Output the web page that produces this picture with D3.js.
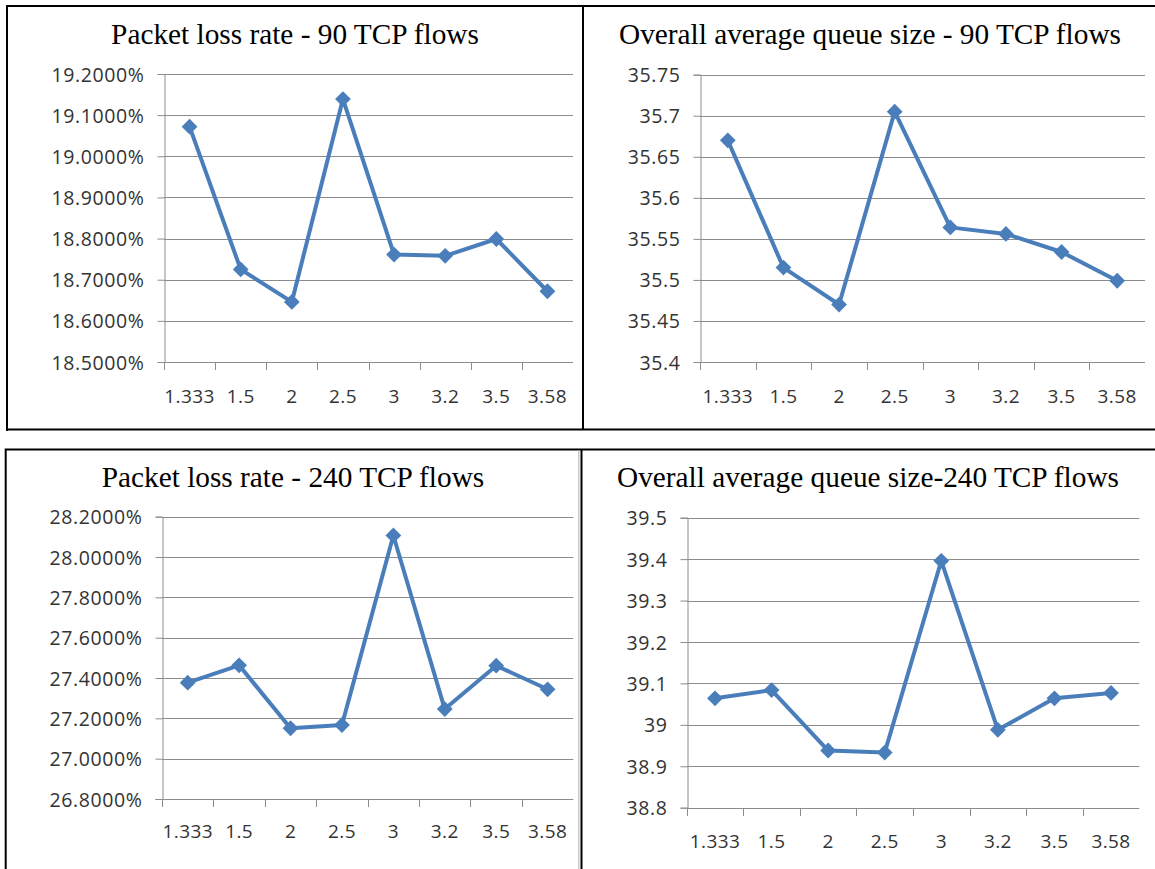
<!DOCTYPE html>
<html>
<head>
<meta charset="utf-8">
<script src="https://cdn.jsdelivr.net/npm/d3@7"></script>
<style>
  html, body { margin: 0; padding: 0; background: #fff; }
  svg { display: block; }
</style>
</head>
<body>
<svg id="chart" width="1155" height="869"></svg>
<script>
// Bandwidth ratio settings along the x axis
const categories = ["1.333", "1.5", "2", "2.5", "3", "3.2", "3.5", "3.58"];

// Packet loss rate (%) with 90 TCP flows
const loss90 = [19.072, 18.725, 18.646, 19.139, 18.761, 18.758, 18.799, 18.672];
// Overall average queue size with 90 TCP flows
const queue90 = [35.670, 35.515, 35.470, 35.705, 35.564, 35.556, 35.534, 35.499];
// Packet loss rate (%) with 240 TCP flows
const loss240 = [27.377, 27.463, 27.151, 27.167, 28.107, 27.246, 27.461, 27.344];
// Overall average queue size with 240 TCP flows
const queue240 = [39.064, 39.084, 38.938, 38.933, 39.396, 38.988, 39.064, 39.077];

// Y axis tick values and their labels
const lossTicks90 = [18.5, 18.6, 18.7, 18.8, 18.9, 19.0, 19.1, 19.2];
const lossLabels90 = ["18.5000%", "18.6000%", "18.7000%", "18.8000%", "18.9000%", "19.0000%", "19.1000%", "19.2000%"];
const queueTicks90 = [35.4, 35.45, 35.5, 35.55, 35.6, 35.65, 35.7, 35.75];
const queueLabels90 = ["35.4", "35.45", "35.5", "35.55", "35.6", "35.65", "35.7", "35.75"];
const lossTicks240 = [26.8, 27.0, 27.2, 27.4, 27.6, 27.8, 28.0, 28.2];
const lossLabels240 = ["26.8000%", "27.0000%", "27.2000%", "27.4000%", "27.6000%", "27.8000%", "28.0000%", "28.2000%"];
const queueTicks240 = [38.8, 38.9, 39.0, 39.1, 39.2, 39.3, 39.4, 39.5];
const queueLabels240 = ["38.8", "38.9", "39", "39.1", "39.2", "39.3", "39.4", "39.5"];

const titles = [
  "Packet loss rate - 90 TCP flows",
  "Overall average queue size - 90 TCP flows",
  "Packet loss rate - 240 TCP flows",
  "Overall average queue size-240 TCP flows"
];

const svg = d3.select("#chart");

const LINE_COLOR = "#4a7ebb";
const GRID_COLOR = "#8c8c8c";
const TEXT_COLOR = "#333";
const TICK_FONT = "'Open Sans', 'Liberation Sans', sans-serif";
const TITLE_FONT = "'Liberation Serif', 'Times New Roman', serif";

// Panel frames
const frame = svg.append("g").attr("fill", "none");
frame.append("path")
  .attr("d", "M7,431 V6 H1157 M7,429.5 H1157 M583,6 V430")
  .attr("stroke", "#000").attr("stroke-width", 2);
frame.append("path")
  .attr("d", "M5.7,870 V449.5 H1157 M581.5,449 V870")
  .attr("stroke", "#000").attr("stroke-width", 2);
frame.append("path")
  .attr("d", "M578.8,450 V870")
  .attr("stroke", "#b0b0b0").attr("stroke-width", 1);

const panels = [
  { values: loss90, ticks: lossTicks90, labels: lossLabels90, title: titles[0],
    x0: 164, x1: 573, y0: 74, y1: 362, titleX: 295, titleY: 44, xLabelY: 403 },
  { values: queue90, ticks: queueTicks90, labels: queueLabels90, title: titles[1],
    x0: 700, x1: 1145, y0: 74.7, y1: 362, titleX: 870, titleY: 44, xLabelY: 403 },
  { values: loss240, ticks: lossTicks240, labels: lossLabels240, title: titles[2],
    x0: 162, x1: 573.3, y0: 516.7, y1: 799, titleX: 293, titleY: 487, xLabelY: 838 },
  { values: queue240, ticks: queueTicks240, labels: queueLabels240, title: titles[3],
    x0: 686.7, x1: 1139.3, y0: 517.7, y1: 807.7, titleX: 868, titleY: 487, xLabelY: 848 }
];

const diamond = d3.symbol().type(d3.symbolSquare).size(125);

panels.forEach(p => {
  const g = svg.append("g");

  const x = d3.scaleBand().domain(categories).range([p.x0, p.x1]).padding(0);
  const y = d3.scaleLinear()
    .domain([p.ticks[0], p.ticks[p.ticks.length - 1]])
    .range([p.y1, p.y0]);

  // Title
  g.append("text")
    .attr("x", p.titleX).attr("y", p.titleY)
    .attr("text-anchor", "middle")
    .attr("font-family", TITLE_FONT)
    .attr("font-size", 29.3)
    .attr("fill", "#000")
    .text(p.title);

  // Horizontal gridlines
  g.append("g")
    .selectAll("line")
    .data(p.ticks.slice(1))
    .join("line")
    .attr("x1", p.x0).attr("x2", p.x1)
    .attr("y1", d => Math.round(y(d)) + 0.5)
    .attr("y2", d => Math.round(y(d)) + 0.5)
    .attr("stroke", GRID_COLOR).attr("stroke-width", 1);

  // Y axis
  const yAxis = d3.axisLeft(y)
    .tickValues(p.ticks)
    .tickSize(7)
    .tickPadding(13)
    .tickFormat((d, i) => p.labels[i]);
  const ya = g.append("g")
    .attr("transform", `translate(${Math.round(p.x0) + 0.5},0)`)
    .call(yAxis);
  ya.select(".domain").attr("stroke", GRID_COLOR);
  ya.selectAll(".tick line").attr("stroke", GRID_COLOR);
  ya.selectAll(".tick text")
    .attr("font-family", TICK_FONT)
    .attr("font-size", 19.5)
    .attr("letter-spacing", 0.6)
    .attr("fill", TEXT_COLOR)
    .attr("dy", "0.36em");

  // X axis: category labels centred in each band, ticks on band edges
  const xAxis = d3.axisBottom(x).tickSize(0).tickPadding(0);
  const xa = g.append("g")
    .attr("transform", `translate(0,${Math.round(p.y1) + 0.5})`)
    .call(xAxis);
  xa.select(".domain").remove();
  xa.selectAll(".tick text")
    .attr("font-family", TICK_FONT)
    .attr("font-size", 19)
    .attr("letter-spacing", 0.4)
    .attr("fill", TEXT_COLOR)
    .attr("dy", 0)
    .attr("y", p.xLabelY - Math.round(p.y1) - 0.5);

  const edges = categories.map(c => x(c));
  g.append("line")
    .attr("x1", p.x0).attr("x2", p.x1)
    .attr("y1", Math.round(p.y1) + 0.5).attr("y2", Math.round(p.y1) + 0.5)
    .attr("stroke", GRID_COLOR);
  g.append("g")
    .selectAll("line")
    .data(edges)
    .join("line")
    .attr("x1", d => Math.round(d) + 0.5).attr("x2", d => Math.round(d) + 0.5)
    .attr("y1", Math.round(p.y1)).attr("y2", Math.round(p.y1) + 8)
    .attr("stroke", GRID_COLOR);

  // Data line
  const cx = (d, i) => x(categories[i]) + x.bandwidth() / 2;
  const line = d3.line().x(cx).y(d => y(d));
  g.append("path")
    .datum(p.values)
    .attr("d", line)
    .attr("fill", "none")
    .attr("stroke", LINE_COLOR)
    .attr("stroke-width", 4)
    .attr("stroke-linejoin", "round");

  // Diamond markers
  g.append("g")
    .selectAll("path")
    .data(p.values)
    .join("path")
    .attr("d", diamond)
    .attr("transform", (d, i) => `translate(${cx(d, i)},${y(d)}) rotate(45)`)
    .attr("fill", LINE_COLOR);
});
</script>
</body>
</html>
